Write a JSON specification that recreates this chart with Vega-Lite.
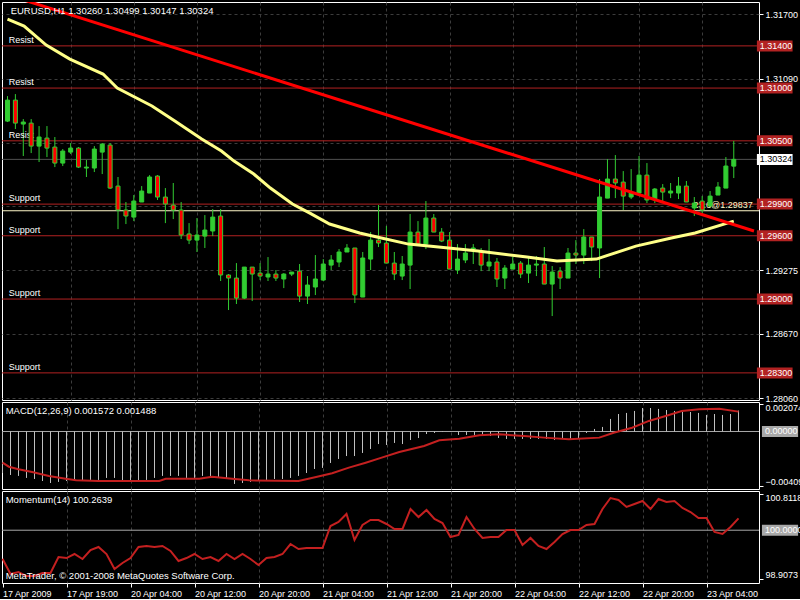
{
"$schema": "https://vega.github.io/schema/vega-lite/v6.json",
"background": "black",
"autosize": {"type": "pad"},
"padding": {"left": -2, "top": 1, "right": 0, "bottom": 0},
"spacing": 2,
"bounds": "flush",
"resolve": {"scale": {"x": "independent", "y": "independent"}},
"config": {
  "view": {"stroke": "white", "strokeWidth": 1},
  "font": "Liberation Sans",
  "axis": {"labelFont": "Liberation Sans", "labelFontSize": 9, "labelColor": "white", "tickColor": "white", "domain": false},
  "text": {"font": "Liberation Sans", "fontSize": 9, "color": "white"}
},
"datasets": {
  "candles": [
{"bar":0,"open":1.30687,"high":1.30924,"low":1.30678,"close":1.30886},
{"bar":1,"open":1.30886,"high":1.30943,"low":1.30612,"close":1.30668},
{"bar":2,"open":1.30659,"high":1.30706,"low":1.30356,"close":1.30678},
{"bar":3,"open":1.30668,"high":1.30706,"low":1.30384,"close":1.30450},
{"bar":4,"open":1.30450,"high":1.30640,"low":1.30299,"close":1.30536},
{"bar":5,"open":1.30526,"high":1.30640,"low":1.30346,"close":1.30431},
{"bar":6,"open":1.30441,"high":1.30536,"low":1.30251,"close":1.30289},
{"bar":7,"open":1.30289,"high":1.30422,"low":1.30261,"close":1.30403},
{"bar":8,"open":1.30393,"high":1.30479,"low":1.30375,"close":1.30431},
{"bar":9,"open":1.30431,"high":1.30441,"low":1.30242,"close":1.30251},
{"bar":10,"open":1.30242,"high":1.30318,"low":1.30157,"close":1.30251},
{"bar":11,"open":1.30242,"high":1.30450,"low":1.30204,"close":1.30422},
{"bar":12,"open":1.30393,"high":1.30479,"low":1.30185,"close":1.30469},
{"bar":13,"open":1.30460,"high":1.30479,"low":1.30043,"close":1.30052},
{"bar":14,"open":1.30071,"high":1.30157,"low":1.29663,"close":1.29844},
{"bar":15,"open":1.29844,"high":1.29920,"low":1.29711,"close":1.29787},
{"bar":16,"open":1.29777,"high":1.29986,"low":1.29739,"close":1.29929},
{"bar":17,"open":1.29920,"high":1.30071,"low":1.29920,"close":1.30024},
{"bar":18,"open":1.30005,"high":1.30175,"low":1.30005,"close":1.30157},
{"bar":19,"open":1.30166,"high":1.30175,"low":1.29939,"close":1.29967},
{"bar":20,"open":1.29967,"high":1.30052,"low":1.29720,"close":1.29901},
{"bar":21,"open":1.29891,"high":1.30100,"low":1.29758,"close":1.29844},
{"bar":22,"open":1.29844,"high":1.29920,"low":1.29569,"close":1.29607},
{"bar":23,"open":1.29617,"high":1.29720,"low":1.29521,"close":1.29559},
{"bar":24,"open":1.29559,"high":1.29768,"low":1.29446,"close":1.29607},
{"bar":25,"open":1.29597,"high":1.29796,"low":1.29484,"close":1.29654},
{"bar":26,"open":1.29645,"high":1.29853,"low":1.29597,"close":1.29777},
{"bar":27,"open":1.29787,"high":1.29853,"low":1.29171,"close":1.29228},
{"bar":28,"open":1.29228,"high":1.29237,"low":1.28896,"close":1.29199},
{"bar":29,"open":1.29199,"high":1.29341,"low":1.28953,"close":1.29009},
{"bar":30,"open":1.29009,"high":1.29303,"low":1.29000,"close":1.29303},
{"bar":31,"open":1.29303,"high":1.29303,"low":1.28981,"close":1.29237},
{"bar":32,"open":1.29246,"high":1.29341,"low":1.29180,"close":1.29218},
{"bar":33,"open":1.29209,"high":1.29398,"low":1.29171,"close":1.29237},
{"bar":34,"open":1.29237,"high":1.29275,"low":1.29171,"close":1.29199},
{"bar":35,"open":1.29190,"high":1.29246,"low":1.29104,"close":1.29237},
{"bar":36,"open":1.29237,"high":1.29256,"low":1.29218,"close":1.29256},
{"bar":37,"open":1.29265,"high":1.29332,"low":1.28972,"close":1.29028},
{"bar":38,"open":1.29028,"high":1.29218,"low":1.28953,"close":1.29133},
{"bar":39,"open":1.29114,"high":1.29417,"low":1.29038,"close":1.29190},
{"bar":40,"open":1.29180,"high":1.29379,"low":1.29171,"close":1.29332},
{"bar":41,"open":1.29322,"high":1.29417,"low":1.29275,"close":1.29370},
{"bar":42,"open":1.29351,"high":1.29474,"low":1.29303,"close":1.29446},
{"bar":43,"open":1.29446,"high":1.29521,"low":1.29446,"close":1.29484},
{"bar":44,"open":1.29484,"high":1.29484,"low":1.28962,"close":1.29038},
{"bar":45,"open":1.29019,"high":1.29446,"low":1.29019,"close":1.29389},
{"bar":46,"open":1.29379,"high":1.29635,"low":1.29275,"close":1.29559},
{"bar":47,"open":1.29559,"high":1.29891,"low":1.29493,"close":1.29531},
{"bar":48,"open":1.29531,"high":1.29692,"low":1.29341,"close":1.29341},
{"bar":49,"open":1.29341,"high":1.29446,"low":1.29180,"close":1.29237},
{"bar":50,"open":1.29218,"high":1.29408,"low":1.29180,"close":1.29332},
{"bar":51,"open":1.29322,"high":1.29806,"low":1.29095,"close":1.29635},
{"bar":52,"open":1.29635,"high":1.29739,"low":1.29512,"close":1.29521},
{"bar":53,"open":1.29521,"high":1.29929,"low":1.29474,"close":1.29768},
{"bar":54,"open":1.29768,"high":1.29806,"low":1.29635,"close":1.29635},
{"bar":55,"open":1.29635,"high":1.29673,"low":1.29540,"close":1.29550},
{"bar":56,"open":1.29559,"high":1.29635,"low":1.29284,"close":1.29284},
{"bar":57,"open":1.29275,"high":1.29521,"low":1.29237,"close":1.29379},
{"bar":58,"open":1.29370,"high":1.29521,"low":1.29341,"close":1.29436},
{"bar":59,"open":1.29474,"high":1.29521,"low":1.29332,"close":1.29484},
{"bar":60,"open":1.29446,"high":1.29484,"low":1.29265,"close":1.29322},
{"bar":61,"open":1.29313,"high":1.29569,"low":1.29265,"close":1.29351},
{"bar":62,"open":1.29351,"high":1.29389,"low":1.29114,"close":1.29190},
{"bar":63,"open":1.29199,"high":1.29322,"low":1.29095,"close":1.29294},
{"bar":64,"open":1.29284,"high":1.29398,"low":1.29284,"close":1.29332},
{"bar":65,"open":1.29341,"high":1.29360,"low":1.29199,"close":1.29237},
{"bar":66,"open":1.29246,"high":1.29389,"low":1.29152,"close":1.29322},
{"bar":67,"open":1.29322,"high":1.29408,"low":1.29218,"close":1.29332},
{"bar":68,"open":1.29332,"high":1.29493,"low":1.29142,"close":1.29142},
{"bar":69,"open":1.29142,"high":1.29313,"low":1.28839,"close":1.29256},
{"bar":70,"open":1.29265,"high":1.29303,"low":1.29095,"close":1.29199},
{"bar":71,"open":1.29199,"high":1.29484,"low":1.29199,"close":1.29436},
{"bar":72,"open":1.29436,"high":1.29559,"low":1.29332,"close":1.29417},
{"bar":73,"open":1.29417,"high":1.29663,"low":1.29332,"close":1.29588},
{"bar":74,"open":1.29588,"high":1.29588,"low":1.29360,"close":1.29493},
{"bar":75,"open":1.29484,"high":1.30138,"low":1.29199,"close":1.29967},
{"bar":76,"open":1.29957,"high":1.30327,"low":1.29957,"close":1.30138},
{"bar":77,"open":1.30138,"high":1.30365,"low":1.29957,"close":1.30100},
{"bar":78,"open":1.30109,"high":1.30213,"low":1.29844,"close":1.29976},
{"bar":79,"open":1.29967,"high":1.30232,"low":1.29948,"close":1.30005},
{"bar":80,"open":1.30005,"high":1.30356,"low":1.30005,"close":1.30175},
{"bar":81,"open":1.30175,"high":1.30289,"low":1.29910,"close":1.29939},
{"bar":82,"open":1.29939,"high":1.30052,"low":1.29910,"close":1.30043},
{"bar":83,"open":1.30052,"high":1.30090,"low":1.29929,"close":1.30014},
{"bar":84,"open":1.30005,"high":1.30100,"low":1.29957,"close":1.30024},
{"bar":85,"open":1.30005,"high":1.30157,"low":1.29948,"close":1.30071},
{"bar":86,"open":1.30071,"high":1.30119,"low":1.29920,"close":1.29920},
{"bar":87,"open":1.29863,"high":1.29967,"low":1.29787,"close":1.29910},
{"bar":88,"open":1.29929,"high":1.29976,"low":1.29815,"close":1.29844},
{"bar":89,"open":1.29882,"high":1.30024,"low":1.29863,"close":1.29976},
{"bar":90,"open":1.29986,"high":1.30109,"low":1.29986,"close":1.30062},
{"bar":91,"open":1.30052,"high":1.30346,"low":1.30052,"close":1.30261},
{"bar":92,"open":1.30260,"high":1.30499,"low":1.30147,"close":1.30324}
  ],
  "ma": [
{"bar":0,"ma":1.31654},{"bar":2.1,"ma":1.31588},{"bar":4.9,"ma":1.31408},{"bar":7.9,"ma":1.31275},{"bar":12.1,"ma":1.31133},{"bar":13.9,"ma":1.31000},{"bar":18.3,"ma":1.30830},{"bar":21.2,"ma":1.30687},{"bar":24.6,"ma":1.30517},{"bar":27.1,"ma":1.30403},{"bar":28.7,"ma":1.30308},{"bar":31.2,"ma":1.30185},{"bar":33.3,"ma":1.30052},{"bar":36.1,"ma":1.29901},{"bar":38.3,"ma":1.29815},{"bar":40.8,"ma":1.29711},{"bar":44.6,"ma":1.29626},{"bar":46.8,"ma":1.29588},{"bar":50.8,"ma":1.29521},{"bar":54.6,"ma":1.29493},{"bar":59.6,"ma":1.29455},{"bar":65.8,"ma":1.29398},{"bar":69.6,"ma":1.29360},{"bar":74.6,"ma":1.29379},{"bar":79.6,"ma":1.29502},{"bar":84.1,"ma":1.29578},{"bar":87.1,"ma":1.29626},{"bar":92,"ma":1.29739}
  ],
  "trend": [{"bar":0,"price":1.31884},{"bar":94.56,"price":1.29645}],
  "levels": [
{"level":1.314,"kind":"Resist"},{"level":1.310,"kind":"Resist"},{"level":1.305,"kind":"Resist"},
{"level":1.299,"kind":"Support"},{"level":1.296,"kind":"Support"},{"level":1.290,"kind":"Support"},{"level":1.283,"kind":"Support"}
  ],
  "fib": [{"level":1.29837,"label":"23.6@1.29837"}],
  "last": [{"price":1.30324}],
  "macd": [
{"bar":0,"macd":-0.00311},{"bar":1,"macd":-0.00326},{"bar":2,"macd":-0.00333},{"bar":3,"macd":-0.00348},{"bar":4,"macd":-0.00356},{"bar":5,"macd":-0.00371},{"bar":6,"macd":-0.00386},{"bar":7,"macd":-0.00378},{"bar":8,"macd":-0.00371},{"bar":9,"macd":-0.00371},
{"bar":10,"macd":-0.00371},{"bar":11,"macd":-0.00363},{"bar":12,"macd":-0.00363},{"bar":13,"macd":-0.00348},{"bar":14,"macd":-0.00348},{"bar":15,"macd":-0.00371},{"bar":16,"macd":-0.00371},{"bar":17,"macd":-0.00371},{"bar":18,"macd":-0.00363},{"bar":19,"macd":-0.00348},
{"bar":20,"macd":-0.00333},{"bar":21,"macd":-0.00333},{"bar":22,"macd":-0.00333},{"bar":23,"macd":-0.00348},{"bar":24,"macd":-0.00348},{"bar":25,"macd":-0.00333},{"bar":26,"macd":-0.00333},{"bar":27,"macd":-0.00348},{"bar":28,"macd":-0.00356},{"bar":29,"macd":-0.00393},
{"bar":30,"macd":-0.00386},{"bar":31,"macd":-0.00378},{"bar":32,"macd":-0.00371},{"bar":33,"macd":-0.00363},{"bar":34,"macd":-0.00356},{"bar":35,"macd":-0.00356},{"bar":36,"macd":-0.00348},{"bar":37,"macd":-0.00333},{"bar":38,"macd":-0.00311},{"bar":39,"macd":-0.00281},
{"bar":40,"macd":-0.00273},{"bar":41,"macd":-0.00236},{"bar":42,"macd":-0.00206},{"bar":43,"macd":-0.00184},{"bar":44,"macd":-0.00184},{"bar":45,"macd":-0.00161},{"bar":46,"macd":-0.00131},{"bar":47,"macd":-0.00094},{"bar":48,"macd":-0.00101},{"bar":49,"macd":-0.00086},
{"bar":50,"macd":-0.00094},{"bar":51,"macd":-0.00064},{"bar":52,"macd":-0.00049},{"bar":53,"macd":-0.00019},{"bar":54,"macd":-0.00011},{"bar":55,"macd":-0.00004},{"bar":56,"macd":0.00002},{"bar":57,"macd":-0.00026},{"bar":58,"macd":-0.00026},{"bar":59,"macd":-0.00026},
{"bar":60,"macd":-0.00026},{"bar":61,"macd":-0.00034},{"bar":62,"macd":-0.00049},{"bar":63,"macd":-0.00056},{"bar":64,"macd":-0.00056},{"bar":65,"macd":-0.00056},{"bar":66,"macd":-0.00056},{"bar":67,"macd":-0.00056},{"bar":68,"macd":-0.00056},{"bar":69,"macd":-0.00064},
{"bar":70,"macd":-0.00056},{"bar":71,"macd":-0.00056},{"bar":72,"macd":-0.00049},{"bar":73,"macd":-0.00011},{"bar":74,"macd":0.00019},{"bar":75,"macd":0.00034},{"bar":76,"macd":0.00094},{"bar":77,"macd":0.00131},{"bar":78,"macd":0.00139},{"bar":79,"macd":0.00154},
{"bar":80,"macd":0.00176},{"bar":81,"macd":0.00176},{"bar":82,"macd":0.00169},{"bar":83,"macd":0.00161},{"bar":84,"macd":0.00154},{"bar":85,"macd":0.00146},{"bar":86,"macd":0.00146},{"bar":87,"macd":0.00139},{"bar":88,"macd":0.00124},{"bar":89,"macd":0.00131},
{"bar":90,"macd":0.00124},{"bar":91,"macd":0.00131},{"bar":92,"macd":0.001572}
  ],
  "signal": [
{"bar":0,"signal":-0.00234},{"bar":0.8,"signal":-0.00264},{"bar":2,"signal":-0.00283},{"bar":3.7,"signal":-0.00303},{"bar":5.8,"signal":-0.00333},{"bar":7.9,"signal":-0.00354},{"bar":9.2,"signal":-0.00366},{"bar":12,"signal":-0.00371},{"bar":19.6,"signal":-0.00371},{"bar":20.4,"signal":-0.00354},{"bar":24.6,"signal":-0.00354},{"bar":26.2,"signal":-0.00339},{"bar":28.7,"signal":-0.00354},{"bar":30.8,"signal":-0.00366},{"bar":37,"signal":-0.00371},{"bar":39.2,"signal":-0.00341},{"bar":41.2,"signal":-0.00313},{"bar":43.3,"signal":-0.00271},{"bar":45.4,"signal":-0.00234},{"bar":47.4,"signal":-0.00196},{"bar":49.6,"signal":-0.00154},{"bar":52.7,"signal":-0.00109},{"bar":54.6,"signal":-0.00066},{"bar":57.1,"signal":-0.00054},{"bar":59.6,"signal":-0.00028},{"bar":62.1,"signal":-0.00021},{"bar":65.2,"signal":-0.00034},{"bar":67.7,"signal":-0.00046},{"bar":70.8,"signal":-0.00058},{"bar":74.6,"signal":-0.00046},{"bar":76.4,"signal":-0.00009},{"bar":78.7,"signal":0.00028},{"bar":80.8,"signal":0.00079},{"bar":82.9,"signal":0.00116},{"bar":84.9,"signal":0.00154},{"bar":87.1,"signal":0.00166},{"bar":89.6,"signal":0.00171},{"bar":92,"signal":0.001488}
  ],
  "momentum": [
{"bar":0,"mom":99.367},{"bar":1,"mom":99.027},{"bar":2,"mom":99.071},{"bar":3,"mom":98.982},{"bar":4,"mom":98.982},{"bar":5,"mom":99.049},{"bar":6,"mom":99.049},{"bar":7,"mom":99.404},{"bar":8,"mom":99.382},{"bar":9,"mom":99.471},
{"bar":10,"mom":99.360},{"bar":11,"mom":99.560},{"bar":12,"mom":99.627},{"bar":13,"mom":99.471},{"bar":14,"mom":99.138},{"bar":15,"mom":99.271},{"bar":16,"mom":99.382},{"bar":17,"mom":99.627},{"bar":18,"mom":99.649},{"bar":19,"mom":99.627},
{"bar":20,"mom":99.649},{"bar":21,"mom":99.538},{"bar":22,"mom":99.316},{"bar":23,"mom":99.382},{"bar":24,"mom":99.471},{"bar":25,"mom":99.360},{"bar":26,"mom":99.404},{"bar":27,"mom":99.316},{"bar":28,"mom":99.471},{"bar":29,"mom":99.360},
{"bar":30,"mom":99.471},{"bar":31,"mom":99.360},{"bar":32,"mom":99.227},{"bar":33,"mom":99.382},{"bar":34,"mom":99.404},{"bar":35,"mom":99.471},{"bar":36,"mom":99.693},{"bar":37,"mom":99.582},{"bar":38,"mom":99.604},{"bar":39,"mom":99.604},
{"bar":40,"mom":99.604},{"bar":41,"mom":100.093},{"bar":42,"mom":100.182},{"bar":43,"mom":100.360},{"bar":44,"mom":99.782},{"bar":45,"mom":100.116},{"bar":46,"mom":100.227},{"bar":47,"mom":100.227},{"bar":48,"mom":100.138},{"bar":49,"mom":100.027},
{"bar":50,"mom":100.027},{"bar":51,"mom":100.471},{"bar":52,"mom":100.293},{"bar":53,"mom":100.449},{"bar":54,"mom":100.249},{"bar":55,"mom":100.160},{"bar":56,"mom":99.849},{"bar":57,"mom":99.893},{"bar":58,"mom":100.293},{"bar":59,"mom":100.027},
{"bar":60,"mom":99.827},{"bar":61,"mom":99.849},{"bar":62,"mom":99.849},{"bar":63,"mom":100.004},{"bar":64,"mom":100.004},{"bar":65,"mom":99.671},{"bar":66,"mom":99.827},{"bar":67,"mom":99.649},{"bar":68,"mom":99.582},{"bar":69,"mom":99.738},
{"bar":70,"mom":99.916},{"bar":71,"mom":100.004},{"bar":72,"mom":100.004},{"bar":73,"mom":100.116},{"bar":74,"mom":100.138},{"bar":75,"mom":100.471},{"bar":76,"mom":100.715},{"bar":77,"mom":100.671},{"bar":78,"mom":100.516},{"bar":79,"mom":100.582},
{"bar":80,"mom":100.649},{"bar":81,"mom":100.471},{"bar":82,"mom":100.693},{"bar":83,"mom":100.627},{"bar":84,"mom":100.649},{"bar":85,"mom":100.493},{"bar":86,"mom":100.404},{"bar":87,"mom":100.271},{"bar":88,"mom":100.271},{"bar":89,"mom":99.960},
{"bar":90,"mom":99.916},{"bar":91,"mom":100.071},{"bar":92,"mom":100.2639}
  ]
},
"vconcat": [
{
  "width": 757, "height": 398,
  "layer": [
    {"data": {"name": "levels"}, "mark": {"type": "rule", "color": "#B22222", "strokeWidth": 1},
     "encoding": {"y": {"field": "level", "type": "quantitative", "title": null, "scale": {"domain": [1.28043, 1.31816], "nice": false, "zero": false},
        "axis": {"orient": "right", "values": [1.317,1.3139,1.3109,1.3079,1.3048,1.30185,1.2988,1.29578,1.29275,1.2897,1.2867,1.28365,1.2806],
          "labelExpr": "indexof([1.3139,1.3048,1.2988,1.29578,1.2897], datum.value) >= 0 ? '' : format(datum.value, '.5f')",
          "grid": true, "gridDash": [3,3], "gridColor": "#3C3C3C", "tickSize": 4, "labelPadding": 2, "domain": false}}}},
    {"data": {"name": "fib"}, "mark": {"type": "rule", "color": "#FFF8C8", "strokeWidth": 1},
     "encoding": {"y": {"field": "level", "type": "quantitative", "title": null}}},
    {"data": {"name": "last"}, "mark": {"type": "rule", "color": "#505050", "strokeWidth": 1},
     "encoding": {"y": {"field": "price", "type": "quantitative", "title": null}}},
    {"data": {"name": "candles"}, "mark": {"type": "rule", "color": "#32CD32", "strokeWidth": 1},
     "encoding": {
       "x": {"field": "bar", "type": "quantitative", "title": null, "scale": {"domain": [-0.0625, 94.5625], "nice": false, "zero": false},
         "axis": {"values": [0,4,8,12,16,20,24,28,32,36,40,44,48,52,56,60,64,68,72,76,80,84,88,92], "labels": false, "ticks": false, "domain": false,
           "grid": true, "gridDash": [3,3],
           "gridColor": {"condition": {"test": "datum.value % 24 == 12", "value": "#FFFFFF"}, "value": "#3C3C3C"},
           "gridOpacity": {"condition": {"test": "datum.value == 0", "value": 0}, "value": 1}}},
       "y": {"field": "low", "type": "quantitative", "title": null}, "y2": {"field": "high"}}},
    {"data": {"name": "levels"}, "mark": {"type": "text", "align": "left", "baseline": "bottom", "dy": -1, "color": "white", "fontSize": 9},
     "encoding": {"x": {"datum": 0.15, "type": "quantitative", "title": null}, "y": {"field": "level", "type": "quantitative", "title": null}, "text": {"field": "kind"}}},
    {"data": {"name": "fib"}, "mark": {"type": "text", "align": "right", "baseline": "bottom", "dy": -1, "color": "#FFF8C8", "fontSize": 9},
     "encoding": {"x": {"datum": 94.4, "type": "quantitative", "title": null}, "y": {"field": "level", "type": "quantitative", "title": null}, "text": {"field": "label"}}},
    {"data": {"name": "candles"}, "mark": {"type": "bar", "width": 4, "stroke": "#32CD32", "strokeWidth": 1},
     "encoding": {"x": {"field": "bar", "type": "quantitative", "title": null}, "y": {"field": "open", "type": "quantitative", "title": null}, "y2": {"field": "close"},
       "fill": {"condition": {"test": "datum.close >= datum.open", "value": "#32CD32"}, "value": "#FF0000"}}},
    {"data": {"name": "ma"}, "mark": {"type": "line", "color": "#FFFF88", "strokeWidth": 3, "clip": true},
     "encoding": {"x": {"field": "bar", "type": "quantitative", "title": null}, "y": {"field": "ma", "type": "quantitative", "title": null}}},
    {"data": {"name": "trend"}, "mark": {"type": "line", "color": "#FF0000", "strokeWidth": 3, "clip": true},
     "encoding": {"x": {"field": "bar", "type": "quantitative", "title": null}, "y": {"field": "price", "type": "quantitative", "title": null}}},
    {"data": {"values": [{}]}, "mark": {"type": "text", "text": "EURUSD,H1  1.30260 1.30499 1.30147 1.30324", "align": "left", "baseline": "top", "dy": 4, "fontSize": 9.5, "color": "white"},
     "encoding": {"x": {"datum": 0.4, "type": "quantitative", "title": null}, "y": {"datum": 1.31816, "type": "quantitative", "title": null}}},
    {"data": {"name": "levels"}, "mark": {"type": "rule", "color": "#B22222", "strokeWidth": 11},
     "encoding": {"x": {"datum": 94.93, "type": "quantitative", "title": null}, "x2": {"datum": 99.45}, "y": {"field": "level", "type": "quantitative", "title": null}}},
    {"data": {"name": "levels"}, "mark": {"type": "text", "align": "left", "baseline": "middle", "color": "white", "fontSize": 9},
     "encoding": {"x": {"datum": 95.3, "type": "quantitative", "title": null}, "y": {"field": "level", "type": "quantitative", "title": null}, "text": {"field": "level", "format": ".5f"}}},
    {"data": {"name": "last"}, "mark": {"type": "rule", "color": "#FFFFFF", "strokeWidth": 11},
     "encoding": {"x": {"datum": 94.93, "type": "quantitative", "title": null}, "x2": {"datum": 99.45}, "y": {"field": "price", "type": "quantitative", "title": null}}},
    {"data": {"name": "last"}, "mark": {"type": "text", "align": "left", "baseline": "middle", "color": "black", "fontSize": 9},
     "encoding": {"x": {"datum": 95.3, "type": "quantitative", "title": null}, "y": {"field": "price", "type": "quantitative", "title": null}, "text": {"field": "price", "format": ".5f"}}}
  ]
},
{
  "width": 757, "height": 87,
  "layer": [
    {"data": {"values": [{}]}, "mark": {"type": "rule", "color": "#A8A8A8", "strokeWidth": 1},
     "encoding": {"y": {"datum": 0, "type": "quantitative", "title": null, "scale": {"domain": [-0.00431, 0.00221], "nice": false, "zero": false},
        "axis": {"orient": "right", "values": [0.002074, -0.00409], "labelExpr": "format(datum.value, datum.value > 0 ? '.6f' : '.5f')",
          "labelBaseline": {"condition": {"test": "datum.value > 0", "value": "top"}, "value": "bottom"},
          "grid": false, "tickSize": 4, "labelPadding": 2, "domain": false}}}},
    {"data": {"name": "macd"}, "mark": {"type": "rule", "color": "#C0C0C0", "strokeWidth": 1},
     "encoding": {
       "x": {"field": "bar", "type": "quantitative", "title": null, "scale": {"domain": [-0.0625, 94.5625], "nice": false, "zero": false},
         "axis": {"values": [0,4,8,12,16,20,24,28,32,36,40,44,48,52,56,60,64,68,72,76,80,84,88,92], "labels": false, "ticks": false, "domain": false,
           "grid": true, "gridDash": [3,3],
           "gridColor": {"condition": {"test": "datum.value % 24 == 12", "value": "#FFFFFF"}, "value": "#3C3C3C"},
           "gridOpacity": {"condition": {"test": "datum.value == 0", "value": 0}, "value": 1}}},
       "y": {"field": "macd", "type": "quantitative", "title": null}, "y2": {"datum": 0}}},
    {"data": {"name": "signal"}, "mark": {"type": "line", "color": "#C42020", "strokeWidth": 2},
     "encoding": {"x": {"field": "bar", "type": "quantitative", "title": null}, "y": {"field": "signal", "type": "quantitative", "title": null}}},
    {"data": {"values": [{}]}, "mark": {"type": "text", "text": "MACD(12,26,9) 0.001572 0.001488", "align": "left", "baseline": "top", "dy": 4, "fontSize": 9.5, "color": "white"},
     "encoding": {"x": {"datum": 0.4, "type": "quantitative", "title": null}, "y": {"datum": 0.00221, "type": "quantitative", "title": null}}},
    {"data": {"values": [{}]}, "mark": {"type": "rule", "color": "#A8A8A8", "strokeWidth": 11},
     "encoding": {"x": {"datum": 94.93, "type": "quantitative", "title": null}, "x2": {"datum": 99.45}, "y": {"datum": 0, "type": "quantitative", "title": null}}},
    {"data": {"values": [{}]}, "mark": {"type": "text", "text": "0.00000", "align": "left", "baseline": "middle", "color": "white", "fontSize": 9},
     "encoding": {"x": {"datum": 95.3, "type": "quantitative", "title": null}, "y": {"datum": 0, "type": "quantitative", "title": null}}}
  ]
},
{
  "width": 757, "height": 92,
  "layer": [
    {"data": {"values": [{}]}, "mark": {"type": "rule", "color": "#A8A8A8", "strokeWidth": 1},
     "encoding": {"y": {"datum": 100, "type": "quantitative", "title": null, "scale": {"domain": [98.827, 100.871], "nice": false, "zero": false},
        "axis": {"orient": "right", "values": [100.8118, 98.9073], "format": ".4f",
          "labelBaseline": {"condition": {"test": "datum.value > 100", "value": "top"}, "value": "bottom"},
          "grid": false, "tickSize": 4, "labelPadding": 2, "domain": false}}}},
    {"data": {"name": "momentum"}, "mark": {"type": "line", "color": "#C42020", "strokeWidth": 2},
     "encoding": {
       "x": {"field": "bar", "type": "quantitative", "title": null, "scale": {"domain": [-0.0625, 94.5625], "nice": false, "zero": false},
         "axis": {"values": [0,4,8,12,16,20,24,28,32,36,40,44,48,52,56,60,64,68,72,76,80,84,88,92],
           "labelExpr": "datum.value % 8 == 0 ? ['17 Apr 2009','17 Apr 19:00','20 Apr 04:00','20 Apr 12:00','20 Apr 20:00','21 Apr 04:00','21 Apr 12:00','21 Apr 20:00','22 Apr 04:00','22 Apr 12:00','22 Apr 20:00','23 Apr 04:00'][datum.value / 8] : ''",
           "labelAlign": "left", "labelBaseline": "top", "labelPadding": 2, "labelOverlap": false, "labelFlush": false, "labelBound": false,
           "tickSize": 4, "tickOpacity": {"condition": {"test": "datum.value % 8 == 0", "value": 1}, "value": 0},
           "domain": false, "grid": true, "gridDash": [3,3],
           "gridColor": {"condition": {"test": "datum.value % 24 == 12", "value": "#FFFFFF"}, "value": "#3C3C3C"},
           "gridOpacity": {"condition": {"test": "datum.value == 0", "value": 0}, "value": 1}}},
       "y": {"field": "mom", "type": "quantitative", "title": null}}},
    {"data": {"values": [{}]}, "mark": {"type": "text", "text": "Momentum(14) 100.2639", "align": "left", "baseline": "top", "dy": 4, "fontSize": 9.5, "color": "white"},
     "encoding": {"x": {"datum": 0.4, "type": "quantitative", "title": null}, "y": {"datum": 100.871, "type": "quantitative", "title": null}}},
    {"data": {"values": [{}]}, "mark": {"type": "text", "text": "MetaTrader, © 2001-2008 MetaQuotes Software Corp.", "align": "left", "baseline": "bottom", "dy": -2, "fontSize": 9.5, "color": "white"},
     "encoding": {"x": {"datum": 0.4, "type": "quantitative", "title": null}, "y": {"datum": 98.827, "type": "quantitative", "title": null}}},
    {"data": {"values": [{}]}, "mark": {"type": "rule", "color": "#A8A8A8", "strokeWidth": 11},
     "encoding": {"x": {"datum": 94.93, "type": "quantitative", "title": null}, "x2": {"datum": 99.45}, "y": {"datum": 100, "type": "quantitative", "title": null}}},
    {"data": {"values": [{}]}, "mark": {"type": "text", "text": "100.0000", "align": "left", "baseline": "middle", "color": "white", "fontSize": 9},
     "encoding": {"x": {"datum": 95.3, "type": "quantitative", "title": null}, "y": {"datum": 100, "type": "quantitative", "title": null}}}
  ]
}
]
}
